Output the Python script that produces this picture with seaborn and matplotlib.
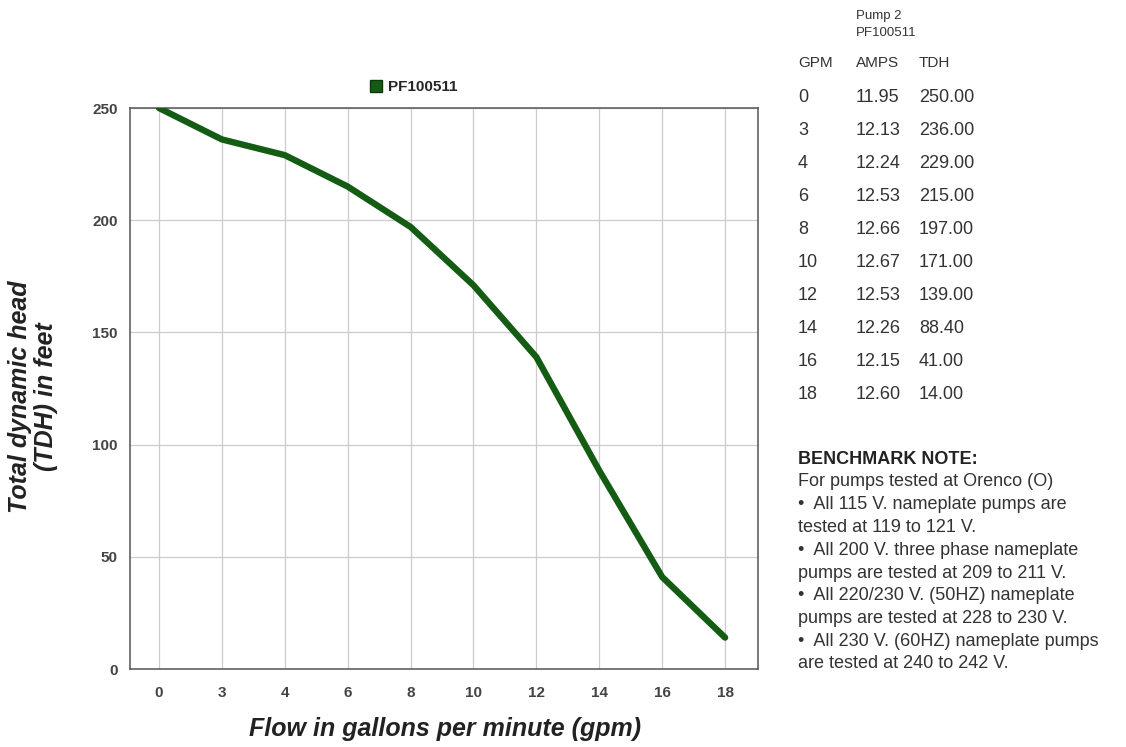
import matplotlib
matplotlib.use("Agg")
import matplotlib.pyplot as plt
from matplotlib.patches import Patch
import seaborn as sns
import pandas as pd

# pump curve data (Pump 2, PF100511)
gpm = [0, 3, 4, 6, 8, 10, 12, 14, 16, 18]
amps = [11.95, 12.13, 12.24, 12.53, 12.66, 12.67, 12.53, 12.26, 12.15, 12.60]
tdh = [250.00, 236.00, 229.00, 215.00, 197.00, 171.00, 139.00, 88.40, 41.00, 14.00]
series_name = "PF100511"

notes = [
    "For pumps tested at Orenco (O)",
    "\u2022  All 115 V. nameplate pumps are",
    "tested at 119 to 121 V.",
    "\u2022  All 200 V. three phase nameplate",
    "pumps are tested at 209 to 211 V.",
    "\u2022  All 220/230 V. (50HZ) nameplate",
    "pumps are tested at 228 to 230 V.",
    "\u2022  All 230 V. (60HZ) nameplate pumps",
    "are tested at 240 to 242 V.",
]

df = pd.DataFrame({"pos": range(len(gpm)), "gpm": gpm, "tdh": tdh})

sns.set_style("white")
plt.rcParams["font.family"] = ["Liberation Sans", "DejaVu Sans"]

green = "#145c14"
fig = plt.figure(figsize=(11.26, 7.47), dpi=100)
ax = fig.add_axes([0.1155, 0.1044, 0.5575, 0.751])

sns.lineplot(data=df, x="pos", y="tdh", color=green, linewidth=4.6, ax=ax,
             solid_capstyle="round", solid_joinstyle="round", zorder=3)

ax.set_xlim(-0.46, 9.52)
ax.set_ylim(0, 250)
ax.set_yticks([0, 50, 100, 150, 200, 250])
ax.set_xticks(df["pos"])
ax.set_xticklabels(gpm)
ax.grid(True, color="#cccccc", linewidth=0.9)
for s in ax.spines.values():
    s.set_color("#555555")
    s.set_linewidth(1.1)
ax.tick_params(axis="both", direction="out", length=5, width=1.2, color="#555555",
               labelcolor="#444444")
ax.tick_params(axis="x", pad=7)
ax.tick_params(axis="y", pad=4)
for lab in ax.get_xticklabels() + ax.get_yticklabels():
    lab.set_fontweight("bold")
    lab.set_fontsize(11)

ax.set_xlabel("Flow in gallons per minute (gpm)", fontsize=18,
              fontweight="bold", style="italic", color="#222222", va="center")
ax.xaxis.set_label_coords(0.502, -0.107)
ax.set_ylabel("Total dynamic head\n(TDH) in feet", fontsize=18,
              fontweight="bold", style="italic", color="#222222",
              linespacing=1.1, va="center")
ax.yaxis.set_label_coords(-0.155, 0.485)

handle = Patch(facecolor=green, edgecolor="#0a3a0a", label=series_name)
ax.legend(handles=[handle], loc="lower center", bbox_to_anchor=(0.452, 1.0),
          frameon=False, handlelength=0.8, handleheight=0.8, handletextpad=0.4,
          prop={"weight": "bold", "size": 11})

# data table on the right
tc = "#333333"
col_x = [798, 856, 919]
fig.text(856 / 1126, 1 - 19 / 747, "Pump 2", fontsize=9.5, color=tc, va="baseline")
fig.text(856 / 1126, 1 - 36 / 747, series_name, fontsize=9.5, color=tc, va="baseline")
for xp, h in zip(col_x, ["GPM", "AMPS", "TDH"]):
    fig.text(xp / 1126, 1 - 63 / 747, h, fontsize=11, color=tc, va="center")
for i, (g, a, t) in enumerate(zip(gpm, amps, tdh)):
    y = 1 - (97 + i * 33.1) / 747
    fig.text(col_x[0] / 1126, y, str(g), fontsize=13, color=tc, va="center")
    fig.text(col_x[1] / 1126, y, f"{a:.2f}", fontsize=13, color=tc, va="center")
    fig.text(col_x[2] / 1126, y, f"{t:.2f}", fontsize=13, color=tc, va="center")

fig.text(798 / 1126, 1 - 460 / 747, "BENCHMARK NOTE:", fontsize=13,
         fontweight="bold", color="#222222", va="center")
for i, line in enumerate(notes):
    fig.text(798 / 1126, 1 - (482 + i * 22.75) / 747, line, fontsize=13,
             color=tc, va="center")

fig.savefig("out.png", dpi=100, facecolor="white")
